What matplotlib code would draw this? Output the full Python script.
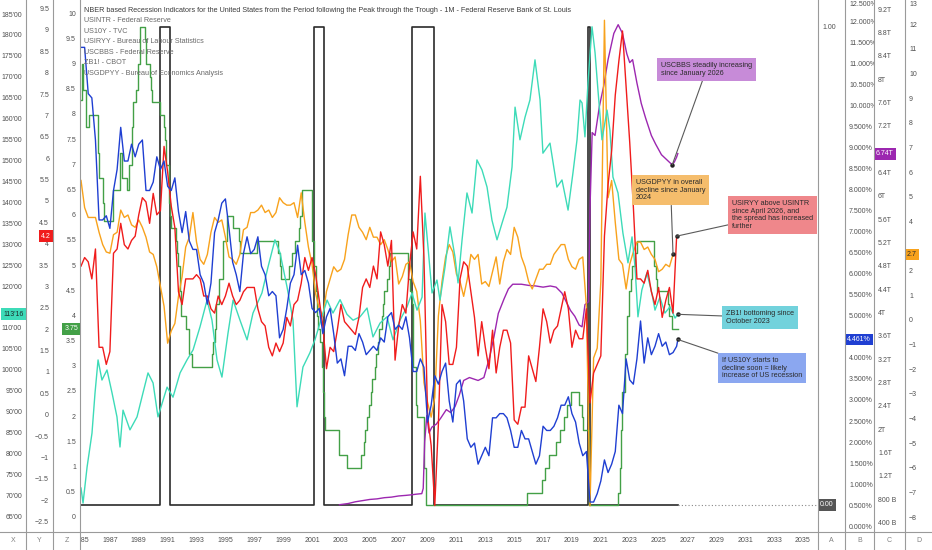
import numpy as np
import matplotlib
matplotlib.use("Agg")
import matplotlib.pyplot as plt
from matplotlib.lines import Line2D
from matplotlib.transforms import blended_transform_factory as blend

plt.rcParams['font.family'] = ['Liberation Sans', 'DejaVu Sans']

# ---------------- data ----------------
title = ("NBER based Recession Indicators for the United States from the Period "
         "following the Peak through the Trough - 1M - Federal Reserve Bank of St. Louis")
legend_names = ["USINTR - Federal Reserve", "US10Y - TVC", "USIRYY - Bureau of Labour Statistics",
                "USCBBS - Federal Reserve", "ZB1! - CBOT", "USGDPYY - Bureau of Economics Analysis"]

year_ticks = list(range(1985, 2036, 2))

# NBER recessions, first and last month
rec_start = ["1990-07", "2001-03", "2007-12", "2020-02"]
rec_end = ["1991-03", "2001-11", "2009-06", "2020-04"]
rec_last = "2026-05"

# USINTR, change dates and target rate
fed_dates = ["1985-01", "1985-02", "1985-03", "1985-05", "1985-08", "1986-03", "1986-04", "1986-07",
             "1986-08", "1987-04", "1987-09", "1987-11", "1988-03", "1988-05", "1988-07", "1988-08",
             "1988-11", "1988-12", "1989-02", "1989-06", "1989-07", "1989-10", "1989-11", "1989-12",
             "1990-07", "1990-10", "1990-11", "1990-12", "1991-02", "1991-03", "1991-04", "1991-08",
             "1991-09", "1991-10", "1991-11", "1991-12", "1992-04", "1992-07", "1992-09", "1994-02",
             "1994-03", "1994-04", "1994-05", "1994-08", "1994-11", "1995-02", "1995-07", "1995-12",
             "1996-01", "1997-03", "1998-09", "1998-10", "1998-11", "1999-06", "1999-08", "1999-11",
             "2000-02", "2000-03", "2000-05", "2001-01", "2001-03", "2001-04", "2001-05", "2001-06",
             "2001-08", "2001-09", "2001-10", "2001-11", "2001-12", "2002-11", "2003-06", "2004-06",
             "2004-08", "2004-09", "2004-11", "2004-12", "2005-02", "2005-03", "2005-05", "2005-06",
             "2005-08", "2005-09", "2005-11", "2005-12", "2006-01", "2006-03", "2006-05", "2006-06",
             "2007-09", "2007-10", "2007-12", "2008-01", "2008-03", "2008-04", "2008-10", "2008-12",
             "2015-12", "2016-12", "2017-03", "2017-06", "2017-12", "2018-03", "2018-06", "2018-09",
             "2018-12", "2019-07", "2019-09", "2019-10", "2020-03", "2022-03", "2022-05", "2022-06",
             "2022-07", "2022-09", "2022-11", "2022-12", "2023-02", "2023-03", "2023-05", "2023-07",
             "2024-09", "2024-11", "2024-12", "2025-09", "2025-10", "2025-12", "2026-05"]
fed_rate = [8.3, 9.0, 8.5, 7.75, 8.0, 7.25, 6.75, 6.25,
            5.9, 6.5, 7.25, 6.75, 6.5, 7.0, 7.75, 8.25,
            8.5, 9.0, 9.75, 9.5, 9.0, 8.75, 8.5, 8.25,
            8.0, 7.75, 7.5, 7.0, 6.25, 6.0, 5.75, 5.5,
            5.25, 5.0, 4.5, 4.0, 3.75, 3.25, 3.0, 3.25,
            3.5, 3.75, 4.25, 4.75, 5.5, 6.0, 5.75, 5.5,
            5.25, 5.5, 5.25, 5.0, 4.75, 5.0, 5.25, 5.5,
            5.75, 6.0, 6.5, 5.5, 5.0, 4.5, 4.0, 3.75,
            3.5, 3.0, 2.5, 2.0, 1.75, 1.25, 1.0, 1.25,
            1.5, 1.75, 2.0, 2.25, 2.5, 2.75, 3.0, 3.25,
            3.5, 3.75, 4.0, 4.25, 4.5, 4.75, 5.0, 5.25,
            4.75, 4.5, 4.25, 3.0, 2.25, 2.0, 1.0, 0.25,
            0.5, 0.75, 1.0, 1.25, 1.5, 1.75, 2.0, 2.25,
            2.5, 2.25, 2.0, 1.75, 0.25, 0.5, 1.0, 1.75,
            2.5, 3.25, 4.0, 4.5, 4.75, 5.0, 5.25, 5.5,
            5.0, 4.75, 4.5, 4.25, 4.0, 3.75, 3.75]

# quarterly series, first value = 1985 Q1
us10y_q = [11.4, 11.4, 10.3, 10.2,  9.2, 7.3, 7.3, 7.4,  7.1, 8.0, 8.5, 9.5,  8.7, 8.7, 9.1, 8.8,
           9.1, 9.2, 8.0, 8.0,  8.2, 8.8, 8.5, 8.7,  8.1, 8.0, 8.3, 7.5,  7.0, 7.5, 6.8, 6.6,
           6.6, 6.0, 5.8, 5.3,  5.8, 7.0, 7.3, 7.7,  7.8, 7.1, 6.3, 6.0,  5.6, 6.5, 6.9, 6.5,
           6.6, 6.9, 6.2, 6.0,  5.5, 5.6, 5.5, 4.5,  4.7, 5.2, 5.8, 6.0,  6.7, 6.0, 6.1, 5.8,
           5.2, 5.1, 5.2, 4.6,  5.0, 5.2, 4.6, 3.9,  4.0, 3.6, 4.3, 4.3,  4.2, 4.6, 4.4, 4.1,
           4.2, 4.3, 4.2, 4.5,  4.4, 5.0, 5.1, 4.7,  4.8, 4.7, 5.0, 4.5,  3.7, 3.7, 4.0, 3.8,
           2.5, 2.9, 3.6, 3.4,  3.7, 3.9, 3.0, 2.5,  3.4, 3.5, 3.0, 2.1,  1.9, 2.0, 1.5, 1.7,
           1.9, 1.7, 2.6, 2.6,  2.7, 2.7, 2.6, 2.3,  1.9, 1.9, 2.3, 2.1,  2.1, 1.8, 1.5, 1.7,
           2.4, 2.3, 2.3, 2.4,  2.6, 2.9, 2.9, 3.1,  2.7, 2.5, 2.0, 1.7,  1.8, 0.6, 0.6, 0.8,
           1.1, 1.6, 1.3, 1.5,  1.8, 2.9, 2.7, 4.0,  3.5, 3.4, 4.0, 4.9,  3.9, 4.5, 4.1, 4.3,
           4.6, 4.3, 4.4, 4.1,  4.15, 4.3]
us10y_last = 4.461

cpi_q = [3.5, 3.7, 3.6, 3.2,  3.9, 1.6, 1.6, 1.2,  1.5, 3.8, 3.9, 4.5,  4.0, 3.9, 4.1, 4.2,
         4.7, 5.1, 5.0, 4.5,  5.2, 4.7, 4.8, 6.3,  5.7, 4.9, 4.4, 2.9,  2.6, 3.2, 3.2, 3.2,
         3.3, 3.2, 2.8, 2.8,  2.5, 2.4, 2.8, 2.6,  2.8, 3.1, 2.8, 2.6,  2.7, 2.9, 3.0, 3.0,
         3.0, 2.5, 2.2, 2.1,  1.6, 1.4, 1.7, 1.5,  1.7, 2.3, 2.1, 2.6,  2.7, 3.1, 3.7, 3.4,
         3.7, 3.3, 2.7, 2.1,  1.1, 1.6, 1.5, 2.0,  2.6, 2.2, 2.1, 2.0,  1.9, 2.3, 3.0, 3.2,
         3.0, 3.5, 3.2, 4.3,  4.0, 3.5, 4.1, 1.3,  2.1, 2.6, 2.4, 3.5,  4.3, 3.9, 5.6, 3.7,
         0.0, -0.7, -2.1, -0.2,  2.6, 2.2, 1.2, 1.2,  1.6, 3.2, 3.6, 3.5,  2.9, 2.3, 1.4, 2.2,
         1.6, 1.1, 2.0, 1.0,  1.6, 2.0, 2.0, 1.7,  -0.1, -0.2, 0.2, 0.2,  1.4, 1.1, 0.8, 1.6,
         2.5, 2.2, 1.7, 2.0,  2.1, 2.5, 2.9, 2.5,  1.6, 2.0, 1.8, 1.8,  2.5, 0.3, 1.0, 1.2,
         1.4, 4.2, 5.4, 6.2,  7.5, 8.3, 9.0, 7.7,  6.4, 4.9, 3.2, 3.2,  3.1, 3.4, 2.9, 2.6,
         3.0, 2.3, 2.7, 3.0,  2.4, 4.2]

gdp_q = [5.7, 4.6, 4.2, 4.2,  4.2, 3.6, 3.1, 2.8,  2.75, 3.5, 3.6, 4.5,  4.2, 4.3, 3.9, 3.8,
         4.1, 3.8, 3.4, 2.8,  2.7, 2.2, 1.4, 0.6,  -0.9, -0.4, -0.1, 1.0,  1.8, 3.0, 3.4, 4.4,
         3.2, 2.5, 2.3, 2.7,  3.6, 4.2, 4.0, 4.1,  3.4, 2.6, 2.5, 2.3,  2.7, 3.7, 3.8, 4.4,
         4.4, 4.5, 4.7, 4.4,  4.5, 4.2, 4.4, 5.0,  4.8, 4.7, 4.7, 4.8,  4.2, 5.2, 4.0, 3.0,
         2.3, 1.1, 0.5, 0.2,  1.2, 1.7, 2.2, 2.0,  2.1, 2.5, 3.5, 4.3,  4.3, 3.8, 3.6, 3.3,
         3.8, 3.4, 3.4, 3.1,  3.3, 2.9, 2.4, 2.6,  1.5, 1.8, 2.3, 2.4,  1.6, 1.2, 0.0, -2.5,
         -3.3, -3.9, -3.1, 0.2,  1.6, 2.6, 3.1, 2.8,  1.9, 1.6, 1.0, 1.7,  2.7, 2.5, 2.7, 1.5,
         1.6, 1.4, 2.0, 2.6,  1.5, 2.4, 2.9, 2.7,  3.8, 3.4, 2.6, 2.2,  1.6, 1.3, 1.7, 2.1,
         2.1, 2.3, 2.3, 2.7,  2.9, 3.1, 3.1, 2.5,  2.2, 2.1, 2.5, 2.6,  0.6, -7.5, -1.5, -1.1,
         1.6, 12.2, 5.0, 5.7,  4.0, 2.5, 2.3, 1.3,  2.3, 2.8, 3.2, 3.2,  2.9, 3.0, 2.7, 2.5,
         2.0, 2.1, 2.3, 2.2,  2.7]

# USCBBS, trillions
cbbs_t = [2002.9, 2003.5, 2004.0, 2004.5, 2005.0, 2005.5, 2006.0, 2006.5, 2007.0, 2007.5, 2007.9,
          2008.2, 2008.6, 2008.7, 2008.8, 2008.95, 2009.1, 2009.3, 2009.6, 2009.9, 2010.3, 2010.6,
          2010.9, 2011.2, 2011.5, 2011.9, 2012.5, 2012.9, 2013.3, 2013.6, 2013.9, 2014.3, 2014.6,
          2014.9, 2015.5, 2016.0, 2016.5, 2017.0, 2017.5, 2017.9, 2018.3, 2018.6, 2018.9, 2019.2,
          2019.5, 2019.7, 2019.9, 2020.15, 2020.25, 2020.4, 2020.6, 2020.9, 2021.2, 2021.5, 2021.9,
          2022.2, 2022.5, 2022.8, 2023.0, 2023.2, 2023.5, 2023.8, 2024.1, 2024.5, 2024.8, 2025.2,
          2025.5, 2025.8, 2025.95, 2026.1, 2026.25, 2026.33]
cbbs_v = [0.72, 0.74, 0.77, 0.79, 0.81, 0.82, 0.84, 0.85, 0.87, 0.88, 0.89,
          0.90, 0.91, 1.0, 1.8, 2.25, 1.95, 2.05, 2.1, 2.2, 2.35, 2.3,
          2.4, 2.6, 2.85, 2.9, 2.85, 2.9, 3.25, 3.6, 4.0, 4.25, 4.42,
          4.5, 4.5, 4.48, 4.47, 4.45, 4.47, 4.45, 4.35, 4.2, 4.05, 3.95,
          3.8, 3.77, 4.15, 4.2, 5.8, 7.1, 7.05, 7.55, 7.9, 8.35, 8.8,
          8.95, 8.8, 8.45, 8.3, 8.35, 7.95, 7.6, 7.35, 7.05, 6.9, 6.72,
          6.65, 6.58, 6.55, 6.6, 6.68, 6.74]

# ZB1! continuous, points
zb_t = [1985.0, 1985.14, 1985.42, 1985.76, 1985.97, 1986.18, 1986.45, 1986.8, 1987.15, 1987.49,
        1987.7, 1987.91, 1988.39, 1988.88, 1989.29, 1989.64, 1989.99, 1990.33, 1990.96, 1991.37,
        1991.86, 1992.34, 1992.76, 1993.24, 1993.73, 1994.07, 1994.42, 1994.76, 1995.18, 1995.53,
        1996.01, 1996.5, 1996.91, 1997.53, 1997.95, 1998.43, 1998.78, 1999.27, 1999.68, 1999.96,
        2000.37, 2000.85, 2001.2, 2001.55, 2002.04, 2002.45, 2002.94, 2003.42, 2003.84, 2004.32,
        2004.81, 2005.22, 2005.71, 2006.19, 2006.61, 2007.09, 2007.58, 2007.92, 2008.27, 2008.62,
        2008.82, 2009.03, 2009.31, 2009.65, 2009.86, 2010.21, 2010.55, 2010.9, 2011.11, 2011.39,
        2011.73, 2012.08, 2012.42, 2012.77, 2013.12, 2013.46, 2013.81, 2014.16, 2014.5, 2014.85,
        2015.06, 2015.4, 2015.75, 2016.09, 2016.44, 2016.79, 2016.99, 2017.48, 2017.96, 2018.31,
        2018.73, 2019.07, 2019.35, 2019.56, 2019.7, 2019.9, 2020.11, 2020.39, 2020.6, 2020.8,
        2021.08, 2021.43, 2021.63, 2021.84, 2022.19, 2022.53, 2022.88, 2023.16, 2023.37, 2023.57,
        2023.84, 2024.19, 2024.53, 2024.75, 2025.09, 2025.44, 2025.79, 2026.14, 2026.33]
zb_v = [72.0, 68.4, 77.0, 85.1, 94.7, 102.6, 97.8, 100.2, 94.7, 89.0,
        81.8, 90.6, 85.9, 89.0, 94.7, 99.5, 97.1, 89.0, 96.1, 93.7,
        99.5, 102.6, 105.0, 110.5, 116.9, 112.1, 102.6, 98.5, 109.0, 116.9,
        112.1, 107.4, 113.8, 118.6, 124.8, 131.3, 128.2, 120.0, 112.1, 91.4,
        100.9, 104.3, 107.4, 111.4, 116.9, 113.8, 117.0, 113.5, 112.1, 112.9,
        115.0, 108.1, 111.4, 112.9, 107.4, 112.1, 115.3, 118.6, 114.5, 117.6,
        137.7, 129.6, 118.6, 121.7, 116.9, 124.8, 134.4, 127.2, 121.0, 131.3,
        142.5, 137.7, 150.4, 148.0, 143.9, 136.0, 131.3, 135.3, 139.1, 148.7,
        163.0, 155.2, 160.6, 164.7, 174.3, 164.7, 152.0, 154.4, 143.9, 145.6,
        138.4, 147.3, 155.2, 164.7, 164.0, 155.9, 168.8, 182.2, 176.0, 167.1,
        155.2, 162.3, 157.5, 146.3, 142.5, 132.9, 125.8, 132.0, 124.8, 112.9,
        119.3, 123.4, 118.6, 114.5, 117.6, 113.8, 115.3, 112.6, 113.5]

# ---------------- layout ----------------
W, H = 932, 550
PL, PR, PB = 80, 818, 532

C_GREEN, C_BLUE, C_RED = '#43a047', '#1f3fd2', '#f01c1c'
C_PURPLE, C_TEAL, C_ORANGE, C_REC = '#9c27b0', '#3ddbb8', '#f8a21c', '#2b2b2b'
TXT = '#505050'
FS = 5.0
NOTE_FS = 5.2
LW = 1.0


def ym(s):
    return int(s[:4]) + (int(s[5:7]) - 1) / 12.0


def rect(x0, y0, x1, y1):
    return [x0 / W, 1 - y1 / H, (x1 - x0) / W, (y1 - y0) / H]


fig = plt.figure(figsize=(W / 100, H / 100), dpi=100)
fig.patch.set_facecolor('white')

base = fig.add_axes(rect(PL, 0, PR, PB))
base.set_xlim(1984.93, 2036.04)
base.axis('off')


def layer(ylim):
    a = fig.add_axes(rect(PL, 0, PR, PB), sharex=base)
    a.set_ylim(*ylim)
    a.axis('off')
    return a


lim_z = (-0.278, 10.278)     # USINTR
lim_y = (-2.720, 9.724)      # USIRYY
lim_x = (61.49, 188.6)       # ZB1!
lim_a = (-0.0565, 1.0565)    # NBER
lim_b = (-0.112, 12.525)     # US10Y
lim_c = (0.252, 9.373)       # USCBBS
lim_d = (-8.56, 13.022)      # USGDPYY

q_t = lambda n: 1985.0 + 0.25 * np.arange(n)

ax_a = layer(lim_a)
rx, ry = [1985.0], [0.0]
for s, e in zip(rec_start, rec_end):
    rx += [ym(s), ym(s), ym(e), ym(e)]
    ry += [0, 1, 1, 0]
rx.append(ym(rec_last))
ry.append(0)
ax_a.plot(rx, ry, color=C_REC, lw=1.2)
ax_a.plot([ym(rec_last), 2036.04], [0, 0], color='#888888', lw=0.8, ls=(0, (1, 2)))

ax_z = layer(lim_z)
fed_t = [ym(d) for d in fed_dates]
ax_z.plot(fed_t, fed_rate, color=C_GREEN, lw=LW, drawstyle='steps-post')

ax_c = layer(lim_c)
ax_c.plot(cbbs_t, cbbs_v, color=C_PURPLE, lw=LW)

ax_d = layer(lim_d)
gdp_t = q_t(len(gdp_q))
ax_d.plot(gdp_t, gdp_q, color=C_ORANGE, lw=LW)

ax_x = layer(lim_x)
ax_x.plot(zb_t, zb_v, color=C_TEAL, lw=LW)

ax_y = layer(lim_y)
cpi_t = q_t(len(cpi_q))
ax_y.plot(cpi_t, cpi_q, color=C_RED, lw=LW)

ax_b = layer(lim_b)
b_t = list(q_t(len(us10y_q))) + [ym(rec_last)]
b_v = us10y_q + [us10y_last]
ax_b.plot(b_t, b_v, color=C_BLUE, lw=LW)

# legend block
fig.text(84 / W, 1 - 10 / H, title, fontsize=5.2, color='#3c3c3c', va='center', ha='left')
for i, name in enumerate(legend_names):
    fig.text(84 / W, 1 - (20.8 + 10.5 * i) / H, name, fontsize=5.2, color='#6a6a6a', va='center', ha='left')

# annotations on a top layer
top = layer((0, 1))
PAD = 0.55 * NOTE_FS * 100 / 72


def note(src, xy, text, box_xy, fc):
    x0, y0 = box_xy
    top.annotate(text, xy=xy, xycoords=src.transData,
                 xytext=(x0 + PAD, H - y0 - PAD), textcoords='figure pixels',
                 ha='left', va='top', fontsize=NOTE_FS, color='#2b2b2b', linespacing=1.15,
                 bbox=dict(boxstyle='square,pad=0.55', fc=fc, ec='none'),
                 arrowprops=dict(arrowstyle='-', color='#5a5a5a', lw=0.8, shrinkA=0, shrinkB=0),
                 annotation_clip=False)
    top.plot([xy[0]], [xy[1]], 'o', color='#222222', ms=2.2, transform=src.transData)


i_low = len(cbbs_v) - 4
note(ax_c, (cbbs_t[i_low], cbbs_v[i_low]), "USCBBS steadily increasing\nsince January 2026", (657, 58), '#c78bd8')
note(ax_d, (gdp_t[-1], gdp_q[-1]), "USGDPYY in overall\ndecline since January\n2024", (632, 175), '#f5bd6c')
note(ax_y, (cpi_t[-1], cpi_q[-1]), "USIRYY above USINTR\nsince April 2026, and\nthe spread has increased\nfurther",
     (728, 196), '#ef878b')
note(ax_x, (zb_t[-1], zb_v[-1]), "ZB1! bottoming since\nOctober 2023", (722, 306), '#72d2dc')
note(ax_b, (b_t[-1], b_v[-1]), "If US10Y starts to\ndecline soon = likely\nincrease of US recession", (718, 353), '#8ba7f0')


# ---------------- price scales ----------------
def strip(x0, x1, ylim, ticks, labels, side, avoid=None):
    s = fig.add_axes(rect(x0, 0, x1, PB))
    s.set_xlim(0, 1)
    s.set_ylim(*ylim)
    s.set_xticks([])
    s.set_yticks([])
    for sp in s.spines.values():
        sp.set_visible(False)
    tr = blend(s.transAxes, s.transData)
    w = x1 - x0
    ppu = PB / (ylim[1] - ylim[0])
    for v, lab in zip(ticks, labels):
        if avoid is not None and abs(v - avoid) * ppu < 8:
            continue
        # keep labels at the very top fully inside the picture
        v = min(v, ylim[1] - 4 / ppu)
        if side == 'left':
            s.text(1 - 4 / w, v, lab, transform=tr, ha='right', va='center', fontsize=FS, color=TXT)
        else:
            s.text(4 / w, v, lab, transform=tr, ha='left', va='center', fontsize=FS, color=TXT)
    return s


def tag(s, v, txt, fc, tc, side):
    w = s.get_position().width * W
    tr = blend(s.transAxes, s.transData)
    box = dict(boxstyle='square,pad=0.35', fc=fc, ec='none')
    if side == 'left':
        s.text(1 - 2 / w, v, txt, transform=tr, ha='right', va='center', fontsize=FS, color=tc, bbox=box)
    else:
        s.text(2 / w, v, txt, transform=tr, ha='left', va='center', fontsize=FS, color=tc, bbox=box)


def num(v):
    return f"{v:g}".replace('-', '\u2212')


zb_ticks = np.arange(65, 186, 5)
s_x = strip(0, 26, lim_x, zb_ticks, [f"{v}'00" for v in zb_ticks], 'left', avoid=zb_v[-1])
tag(s_x, zb_v[-1], "113'16", C_TEAL, '#1d2b2b', 'left')

y_ticks = np.arange(-2.5, 9.51, 0.5)
s_y = strip(26, 53, lim_y, y_ticks, [num(v) for v in y_ticks], 'left', avoid=cpi_q[-1])
tag(s_y, cpi_q[-1], "4.2", C_RED, 'white', 'left')

z_ticks = np.arange(0, 10.01, 0.5)
s_z = strip(53, 80, lim_z, z_ticks, [num(v) for v in z_ticks], 'left', avoid=fed_rate[-1])
tag(s_z, fed_rate[-1], "3.75", C_GREEN, 'white', 'left')

s_a = strip(818, 845, lim_a, [1.0], ["1.00"], 'right')
tag(s_a, 0.0, "0.00", '#555555', 'white', 'right')

b_ticks = np.arange(0, 12.51, 0.5)
s_b = strip(845, 874, lim_b, b_ticks, [f"{v:.3f}%" for v in b_ticks], 'right', avoid=us10y_last)
tag(s_b, us10y_last, "4.461%", C_BLUE, 'white', 'right')

c_ticks = np.arange(0.4, 9.21, 0.4)
c_labels = [f"{int(round(v * 1000))} B" if v < 1 else f"{round(v, 1):g}T" for v in c_ticks]
s_c = strip(874, 905, lim_c, c_ticks, c_labels, 'right', avoid=cbbs_v[-1])
tag(s_c, cbbs_v[-1], "6.74T", C_PURPLE, 'white', 'right')

d_ticks = np.arange(-8, 14, 1)
s_d = strip(905, 932, lim_d, d_ticks, [num(v) for v in d_ticks], 'right', avoid=gdp_q[-1])
tag(s_d, gdp_q[-1], "2.7", C_ORANGE, '#2b2b2b', 'right')

# time scale
tx = fig.add_axes(rect(PL, PB, PR, H), sharex=base)
tx.axis('off')
ttr = blend(tx.transData, tx.transAxes)
for yr in year_ticks:
    tx.text(yr, 0.5, str(yr), transform=ttr, ha='center', va='center', fontsize=FS, color=TXT, clip_on=True)
for lab, xc in zip("XYZABCD", [13, 39.5, 66.5, 831.5, 859.5, 889.5, 918.5]):
    fig.text(xc / W, 1 - 541 / H, lab, ha='center', va='center', fontsize=FS, color='#808080')

# separators
for xv in [26, 53, 80, 818, 845, 874, 905]:
    fig.add_artist(Line2D([xv / W, xv / W], [0, 1], color='#9a9a9a', lw=0.8))
fig.add_artist(Line2D([0, 1], [1 - PB / H, 1 - PB / H], color='#9a9a9a', lw=0.8))

fig.savefig("out.png", dpi=100)
